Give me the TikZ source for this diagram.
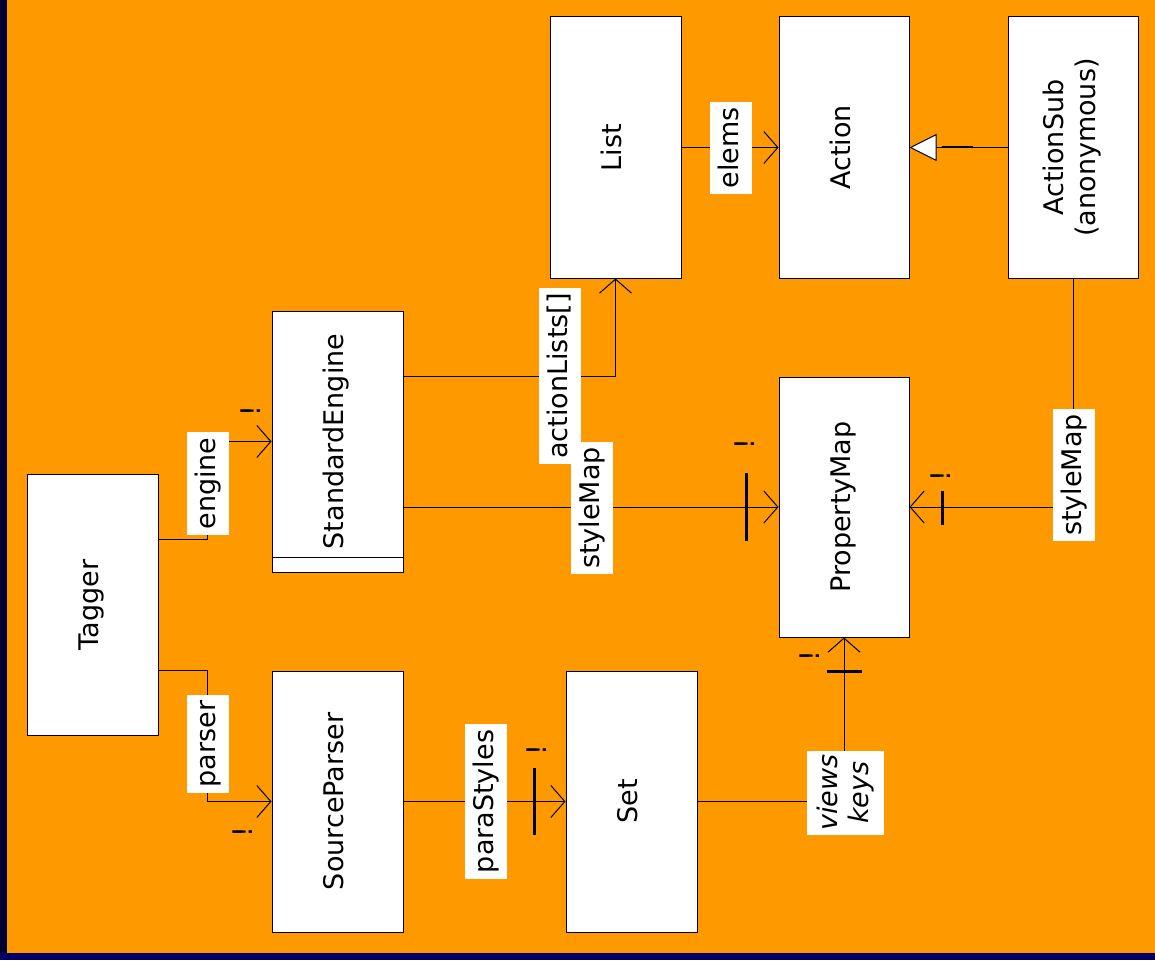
\documentclass[tikz,border=0pt]{standalone}
\usepackage{fontspec}
\setmainfont{DejaVu Sans}
\usetikzlibrary{arrows.meta,calc}

\definecolor{bgorange}{HTML}{FF9900}
\definecolor{edgeleft}{HTML}{000030}
\definecolor{edgebottom}{HTML}{000066}

\newcommand{\classfont}{\fontsize{27}{32}\selectfont}
\newcommand{\vtext}[1]{\rotatebox{90}{\begin{tabular}{@{}c@{}}#1\end{tabular}}}

\tikzset{
  cls/.style={draw=black, line width=1pt, fill=white, inner sep=0pt,
              minimum width=131pt, minimum height=261pt, font=\classfont},
  lbl/.style={fill=white, rotate=90, inner xsep=5.5pt, inner ysep=7.5pt,
              text height=20.5pt, text depth=6.5pt, font=\classfont},
  assoc/.style={draw=black, line width=1pt,
                -{Straight Barb[length=14pt,width=32pt,line width=1pt]}},
  inherit/.style={draw=black, line width=1pt,
                  -{Triangle[length=27pt,width=27pt,fill=white,line width=1pt]}},
  mult/.style={rotate=90, inner sep=0pt, font=\classfont},
  bar/.style={draw=black, line width=3pt}
}

\begin{document}
\begin{tikzpicture}[x=1pt,y=-1pt]
  % canvas and dark edges
  \useasboundingbox (0,0) rectangle (1155,960);
  \fill[bgorange] (0,0) rectangle (1155,960);
  \fill[edgeleft] (0,0) rectangle (7,960);
  \fill[edgebottom] (0,953) rectangle (1155,960);

  % classes
  \node[cls] (tagger)  at (92.5,605)   {\vtext{Tagger}};
  \node[cls] (sengine) at (337.5,441.5) {\vtext{StandardEngine}};
  \draw[line width=1pt] ([yshift=15pt]sengine.south west) -- ([yshift=15pt]sengine.south east);
  \node[cls] (sparser) at (337.5,801.5) {\vtext{SourceParser}};
  \node[cls] (set)     at (631.5,801.5) {\vtext{Set}};
  \node[cls] (list)    at (615.5,147.5) {\vtext{List}};
  \node[cls, minimum width=130pt] (action) at (844,147.5) {\vtext{Action}};
  \node[cls, minimum width=130pt] (sub)    at (1073,147.5) {\vtext{ActionSub\\(anonymous)}};
  \node[cls, minimum width=130pt, minimum height=260pt] (pmap) at (844,507) {\vtext{PropertyMap}};

  % associations
  \draw[assoc] ($(tagger.north east)!0.25!(tagger.south east)$) -- ++(49,0) |- (sengine.west);
  \draw[assoc] ($(tagger.north east)!0.75!(tagger.south east)$) -- ++(49,0) |- (sparser.west);
  \draw[assoc] (sparser.east) -- (set.west);
  \draw[assoc] (set.east) -| (pmap.south);
  \draw[assoc] ($(sengine.north east)!0.25!(sengine.south east)$) -| (list.south);
  \draw[assoc] (sengine.east |- pmap.west) -- (pmap.west);
  \draw[assoc] (list.east) -- (action.west);
  \draw[assoc] (sub.south) |- (pmap.east);
  \draw[inherit] (sub.west) -- (action.east);
  \draw[line width=2pt] (942,147.5) -- (973,147.5);

  % role names
  \node[lbl] (lengine)   at (208,483.5) {engine};
  \node[lbl] (lparser)   at (208,744)   {parser};
  \node[lbl] (lpara)     at (486,801.5) {paraStyles};
  \node[lbl] (lactions)  at (560,376)   {actionLists[]};
  \node[lbl] (lstyle)    at (592,508)   {styleMap};
  \node[lbl] (lelems)    at (731,148)   {elems};
  \node[lbl] (lsubstyle) at (1074,475)  {styleMap};
  \node[fill=white, rotate=90, inner sep=0pt, minimum width=84pt, minimum height=77pt,
        align=center, font=\classfont\itshape] (lviews) at (845.5,792.5)
        {\rule{0pt}{21pt}views\\[-1pt]keys};

  % multiplicity marks
  \node[mult] (m1) at (251,411) {!};
  \node[mult] (m2) at (243,832) {!};
  \node[mult] (m3) at (537,750) {!};
  \node[mult] (m4) at (810,656) {!};
  \node[mult] (m5) at (745,444) {!};
  \node[mult] (m6) at (941,476) {!};

  % cardinality bars
  \draw[bar] (534,768) -- (534,835);
  \draw[bar] (827,671) -- (862,671);
  \draw[bar] (746,473) -- (746,541);
  \draw[bar] (942,491) -- (942,525);
\end{tikzpicture}
\end{document}
